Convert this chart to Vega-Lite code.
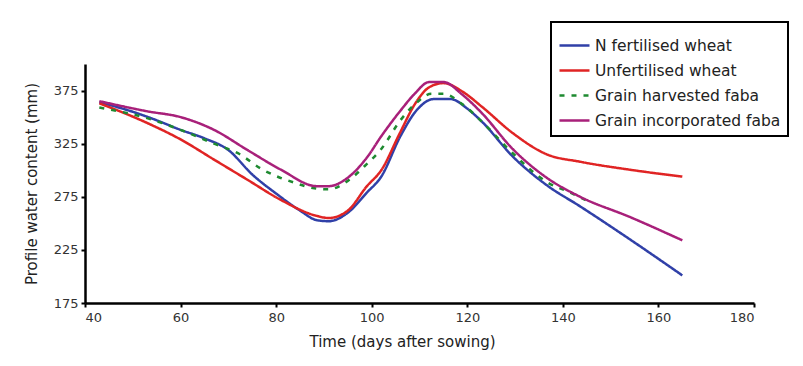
{
  "$schema": "https://vega.github.io/schema/vega-lite/v6.json",
  "autosize": {"type": "none"},
  "width": 669,
  "height": 239,
  "padding": {"left": 85, "top": 64, "right": 49, "bottom": 63},
  "background": "white",
  "config": {
    "view": {"stroke": null},
    "font": "DejaVu Sans",
    "axis": {"grid": false, "domainColor": "black", "domainWidth": 2.5, "tickColor": "black", "tickWidth": 2, "tickSize": 4, "labelFont": "DejaVu Sans", "labelFontSize": 13, "labelColor": "#333", "titleFont": "DejaVu Sans", "titleFontSize": 15, "titleFontWeight": "normal", "titleColor": "#222"}
  },
  "datasets": {
    "d": [
      {"series": "N fertilised wheat", "day": 43, "water": 364},
      {"series": "N fertilised wheat", "day": 50, "water": 355},
      {"series": "N fertilised wheat", "day": 55, "water": 347},
      {"series": "N fertilised wheat", "day": 60, "water": 338},
      {"series": "N fertilised wheat", "day": 65, "water": 330},
      {"series": "N fertilised wheat", "day": 70, "water": 319},
      {"series": "N fertilised wheat", "day": 75, "water": 296},
      {"series": "N fertilised wheat", "day": 80, "water": 278},
      {"series": "N fertilised wheat", "day": 85, "water": 262},
      {"series": "N fertilised wheat", "day": 88.5, "water": 253},
      {"series": "N fertilised wheat", "day": 91, "water": 252},
      {"series": "N fertilised wheat", "day": 95, "water": 260},
      {"series": "N fertilised wheat", "day": 99, "water": 279},
      {"series": "N fertilised wheat", "day": 102, "water": 294},
      {"series": "N fertilised wheat", "day": 106, "water": 332},
      {"series": "N fertilised wheat", "day": 109.5, "water": 357},
      {"series": "N fertilised wheat", "day": 113, "water": 367},
      {"series": "N fertilised wheat", "day": 116.5, "water": 367},
      {"series": "N fertilised wheat", "day": 120, "water": 358},
      {"series": "N fertilised wheat", "day": 123, "water": 346},
      {"series": "N fertilised wheat", "day": 129.5, "water": 313},
      {"series": "N fertilised wheat", "day": 136.6, "water": 286},
      {"series": "N fertilised wheat", "day": 143.6, "water": 266},
      {"series": "N fertilised wheat", "day": 154, "water": 235},
      {"series": "N fertilised wheat", "day": 165, "water": 201},
      {"series": "Unfertilised wheat", "day": 43, "water": 363},
      {"series": "Unfertilised wheat", "day": 53, "water": 344.5},
      {"series": "Unfertilised wheat", "day": 60, "water": 329},
      {"series": "Unfertilised wheat", "day": 67, "water": 310},
      {"series": "Unfertilised wheat", "day": 74, "water": 291},
      {"series": "Unfertilised wheat", "day": 81, "water": 272},
      {"series": "Unfertilised wheat", "day": 88.5, "water": 257},
      {"series": "Unfertilised wheat", "day": 91, "water": 255},
      {"series": "Unfertilised wheat", "day": 95, "water": 262},
      {"series": "Unfertilised wheat", "day": 99, "water": 285},
      {"series": "Unfertilised wheat", "day": 102, "water": 300},
      {"series": "Unfertilised wheat", "day": 106, "water": 336},
      {"series": "Unfertilised wheat", "day": 109, "water": 362},
      {"series": "Unfertilised wheat", "day": 112, "water": 378},
      {"series": "Unfertilised wheat", "day": 115, "water": 382},
      {"series": "Unfertilised wheat", "day": 119, "water": 374},
      {"series": "Unfertilised wheat", "day": 123, "water": 360},
      {"series": "Unfertilised wheat", "day": 129.5, "water": 335},
      {"series": "Unfertilised wheat", "day": 136.6, "water": 315},
      {"series": "Unfertilised wheat", "day": 143.6, "water": 308},
      {"series": "Unfertilised wheat", "day": 154, "water": 300.5},
      {"series": "Unfertilised wheat", "day": 165, "water": 294},
      {"series": "Grain harvested faba", "day": 43, "water": 359},
      {"series": "Grain harvested faba", "day": 53, "water": 349},
      {"series": "Grain harvested faba", "day": 60, "water": 338},
      {"series": "Grain harvested faba", "day": 67, "water": 325},
      {"series": "Grain harvested faba", "day": 72, "water": 316},
      {"series": "Grain harvested faba", "day": 77, "water": 301},
      {"series": "Grain harvested faba", "day": 84, "water": 288},
      {"series": "Grain harvested faba", "day": 88, "water": 283},
      {"series": "Grain harvested faba", "day": 91, "water": 282},
      {"series": "Grain harvested faba", "day": 95, "water": 290},
      {"series": "Grain harvested faba", "day": 99, "water": 306},
      {"series": "Grain harvested faba", "day": 102, "water": 320},
      {"series": "Grain harvested faba", "day": 106, "water": 347},
      {"series": "Grain harvested faba", "day": 109, "water": 362},
      {"series": "Grain harvested faba", "day": 112.5, "water": 372},
      {"series": "Grain harvested faba", "day": 115, "water": 372},
      {"series": "Grain harvested faba", "day": 119, "water": 362},
      {"series": "Grain harvested faba", "day": 123, "water": 346},
      {"series": "Grain harvested faba", "day": 129.5, "water": 316},
      {"series": "Grain harvested faba", "day": 136.6, "water": 289},
      {"series": "Grain harvested faba", "day": 141.5, "water": 279},
      {"series": "Grain harvested faba", "day": 146, "water": 269},
      {"series": "Grain incorporated faba", "day": 43, "water": 365},
      {"series": "Grain incorporated faba", "day": 53, "water": 355.5},
      {"series": "Grain incorporated faba", "day": 60, "water": 350},
      {"series": "Grain incorporated faba", "day": 67, "water": 338},
      {"series": "Grain incorporated faba", "day": 74, "water": 319},
      {"series": "Grain incorporated faba", "day": 81, "water": 300.5},
      {"series": "Grain incorporated faba", "day": 88.5, "water": 285},
      {"series": "Grain incorporated faba", "day": 91, "water": 285},
      {"series": "Grain incorporated faba", "day": 95, "water": 293},
      {"series": "Grain incorporated faba", "day": 99, "water": 312},
      {"series": "Grain incorporated faba", "day": 102, "water": 332},
      {"series": "Grain incorporated faba", "day": 106, "water": 356},
      {"series": "Grain incorporated faba", "day": 109, "water": 372},
      {"series": "Grain incorporated faba", "day": 112, "water": 383},
      {"series": "Grain incorporated faba", "day": 115, "water": 383},
      {"series": "Grain incorporated faba", "day": 119, "water": 371},
      {"series": "Grain incorporated faba", "day": 123, "water": 354},
      {"series": "Grain incorporated faba", "day": 129.5, "water": 320},
      {"series": "Grain incorporated faba", "day": 136.6, "water": 293},
      {"series": "Grain incorporated faba", "day": 143.6, "water": 275},
      {"series": "Grain incorporated faba", "day": 154, "water": 256},
      {"series": "Grain incorporated faba", "day": 165, "water": 234}
    ]
  },
  "data": {"name": "d"},
  "mark": {"type": "line", "strokeWidth": 2.5, "interpolate": "monotone"},
  "encoding": {
    "x": {"field": "day", "type": "quantitative", "scale": {"domain": [40, 180], "nice": false}, "axis": {"values": [40, 60, 80, 100, 120, 140, 160, 180], "title": "Time (days after sowing)", "labelPadding": 4, "titlePadding": 10, "titleX": 317}},
    "y": {"field": "water", "type": "quantitative", "scale": {"domain": [175, 400], "nice": false, "zero": false}, "axis": {"values": [175, 225, 275, 325, 375], "title": "Profile water content (mm)", "labelPadding": 3, "titlePadding": 14}},
    "color": {"field": "series", "type": "nominal",
      "scale": {"domain": ["N fertilised wheat", "Unfertilised wheat", "Grain harvested faba", "Grain incorporated faba"], "range": ["#3040a8", "#e02424", "#1e8a30", "#a8207a"]},
      "legend": {"title": null, "orient": "none", "legendX": 466, "legendY": -42, "strokeColor": "black", "padding": 7, "rowPadding": -3, "symbolType": "stroke", "symbolSize": 900, "symbolStrokeWidth": 2.5, "labelOffset": 4, "labelFontSize": 15.5, "labelFont": "DejaVu Sans", "labelColor": "#222", "labelLimit": 300, "fillColor": "white",
        "encode": {"legend": {"update": {"strokeWidth": {"value": 2}}}}}},
    "strokeDash": {"field": "series", "type": "nominal",
      "scale": {"domain": ["N fertilised wheat", "Unfertilised wheat", "Grain harvested faba", "Grain incorporated faba"], "range": [[1, 0], [1, 0], [5, 7], [1, 0]]}}
  }
}
